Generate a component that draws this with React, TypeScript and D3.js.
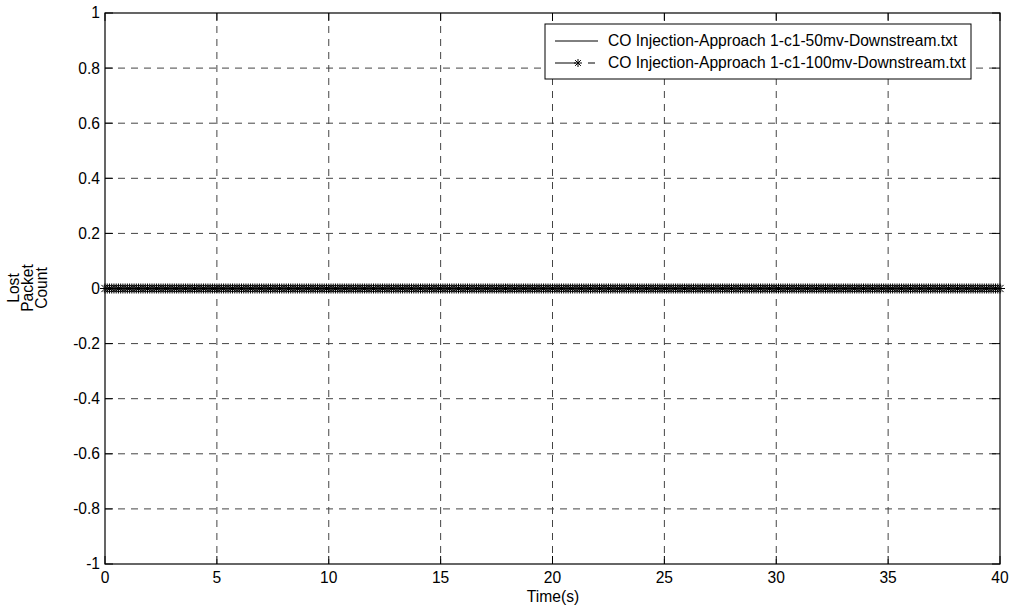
import React from "react";
import * as d3 from "d3";

const W = 1013;
const H = 611;

// Data: lost packet count is 0 across the whole run for both series
const timeS: number[] = d3.range(0, 40.0001, 0.1).map((v) => +v.toFixed(1));
const lost50mv: number[] = timeS.map(() => 0);
const lost100mv: number[] = timeS.map(() => 0);
const seriesNames: string[] = [
  "CO Injection-Approach 1-c1-50mv-Downstream.txt",
  "CO Injection-Approach 1-c1-100mv-Downstream.txt",
];
const xTicks: number[] = [0, 5, 10, 15, 20, 25, 30, 35, 40];
const yTicks: number[] = [-1, -0.8, -0.6, -0.4, -0.2, 0, 0.2, 0.4, 0.6, 0.8, 1];

const FONT = "Arial, 'Liberation Sans', Helvetica, sans-serif";
const FS = 15.6;

function asterisk(cx: number, cy: number, r: number): string {
  const d = r * 0.72;
  return (
    `M${cx - r},${cy}L${cx + r},${cy}` +
    `M${cx},${cy - r}L${cx},${cy + r}` +
    `M${cx - d},${cy - d}L${cx + d},${cy + d}` +
    `M${cx - d},${cy + d}L${cx + d},${cy - d}`
  );
}

export default function App() {
  const left = 105, right = 1000, top = 13, bottom = 564;
  const x = d3.scaleLinear().domain([0, 40]).range([left, right]);
  const y = d3.scaleLinear().domain([-1, 1]).range([bottom, top]);
  const line = d3
    .line<number>()
    .x((_, i) => x(timeS[i]))
    .y((v) => y(v));
  const tickLen = 8;

  const markers = lost100mv.map((v, i) => asterisk(x(timeS[i]), y(v), 5)).join("");

  const lgX = 545, lgY = 24, lgW = 426, lgH = 55;
  const row1 = 41, row2 = 63;

  return (
    <svg
      width={W}
      height={H}
      style={{ position: "absolute", left: 0, top: 0, background: "#fff" }}
      fontFamily={FONT}
    >
      <rect x={0} y={0} width={W} height={H} fill="#fff" />
      {/* grid */}
      <g stroke="#444" strokeWidth={1} strokeDasharray="7,6">
        {xTicks.slice(1, -1).map((t) => (
          <line key={"gx" + t} x1={x(t)} x2={x(t)} y1={top} y2={bottom} />
        ))}
        {yTicks.slice(1, -1).map((t) => (
          <line key={"gy" + t} x1={left} x2={right} y1={y(t)} y2={y(t)} />
        ))}
      </g>
      {/* ticks */}
      <g stroke="#000" strokeWidth={1}>
        {xTicks.map((t) => (
          <g key={"tx" + t}>
            <line x1={x(t)} x2={x(t)} y1={bottom} y2={bottom - tickLen} />
            <line x1={x(t)} x2={x(t)} y1={top} y2={top + tickLen} />
          </g>
        ))}
        {yTicks.map((t) => (
          <g key={"ty" + t}>
            <line x1={left} x2={left + tickLen} y1={y(t)} y2={y(t)} />
            <line x1={right} x2={right - tickLen} y1={y(t)} y2={y(t)} />
          </g>
        ))}
      </g>
      {/* data */}
      <path d={line(lost50mv) || ""} fill="none" stroke="#000" strokeWidth={1} />
      <path d={line(lost100mv) || ""} fill="none" stroke="#000" strokeWidth={1} strokeDasharray="7,5" />
      <path d={markers} fill="none" stroke="#000" strokeWidth={1} />
      {/* axes box */}
      <rect x={left} y={top} width={right - left} height={bottom - top} fill="none" stroke="#000" strokeWidth={1.2} />
      {/* tick labels */}
      <g fontSize={FS} fill="#000">
        {xTicks.map((t) => (
          <text key={"lx" + t} x={x(t)} y={bottom + 19} textAnchor="middle">
            {t}
          </text>
        ))}
        {yTicks.map((t) => (
          <text key={"ly" + t} x={left - 5} y={y(t)} dy="0.35em" textAnchor="end">
            {Math.abs(t) < 1e-9 ? "0" : String(+t.toFixed(1))}
          </text>
        ))}
      </g>
      {/* axis labels */}
      <text x={553} y={602} textAnchor="middle" fontSize={FS}>
        Time(s)
      </text>
      <g fontSize={FS}>
        {["Lost", "Packet", "Count"].map((s, i) => (
          <text
            key={s}
            transform={`translate(${14 + i * 14},${288}) rotate(-90)`}
            textAnchor="middle"
            dy="0.35em"
          >
            {s}
          </text>
        ))}
      </g>
      {/* legend */}
      <rect x={lgX} y={lgY} width={lgW} height={lgH} fill="#fff" stroke="#000" strokeWidth={1} />
      <line x1={555} x2={598} y1={row1} y2={row1} stroke="#000" strokeWidth={1} />
      <line x1={555} x2={576} y1={row2} y2={row2} stroke="#000" strokeWidth={1} />
      <path d={asterisk(578, row2, 4)} stroke="#000" strokeWidth={1} fill="none" />
      <line x1={588} x2={595} y1={row2} y2={row2} stroke="#000" strokeWidth={1} />
      <g fontSize={FS}>
        <text x={608} y={row1} dy="0.35em">
          {seriesNames[0]}
        </text>
        <text x={608} y={row2} dy="0.35em">
          {seriesNames[1]}
        </text>
      </g>
    </svg>
  );
}
